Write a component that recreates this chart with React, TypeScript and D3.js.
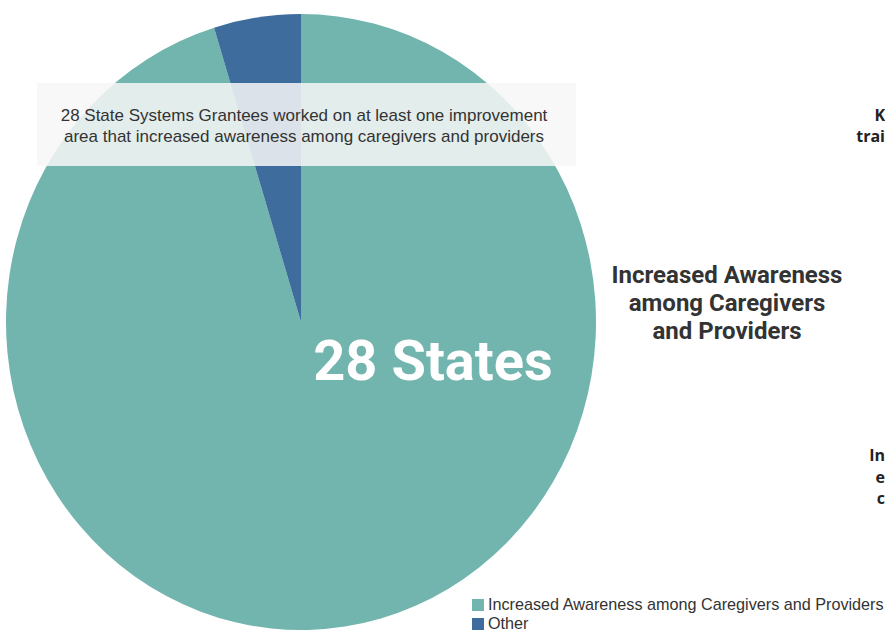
import { useEffect, useRef } from "react";
import * as d3 from "d3";

const categories = ["Increased Awareness among Caregivers and Providers", "Other"];
const values = [28, 1.4];
const colors = ["#72B5AE", "#3E6D9D"];
const tooltipLines = [
  "28 State Systems Grantees worked on at least one improvement",
  "area that increased awareness among caregivers and providers",
];
const titleLines = ["Increased Awareness", "among Caregivers", "and Providers"];
// fragments of the neighbouring chart's labels, cut by the right edge
const sideLabels = ["K", "trai", "In", "e", "c"];

export default function App() {
  const svgRef = useRef<SVGSVGElement>(null);

  useEffect(() => {
    if (!svgRef.current) return;
    const width = 886;
    const height = 633;
    const svg = d3.select(svgRef.current);
    svg.selectAll("*").remove();
    svg.attr("viewBox", `0 0 ${width} ${height}`);

    const data = categories.map((c, i) => ({ label: c, value: values[i], color: colors[i] }));
    const cx = 301;
    const cy = 322;
    const r = 295;
    const ry = 308;

    const pie = d3.pie<(typeof data)[number]>().value((d) => d.value).sort(null);
    const arc = d3.arc<d3.PieArcDatum<(typeof data)[number]>>().innerRadius(0).outerRadius(r);

    // the chart is slightly stretched vertically
    svg
      .append("g")
      .attr("transform", `translate(${cx},${cy}) scale(1,${ry / r})`)
      .selectAll("path")
      .data(pie(data))
      .join("path")
      .attr("d", arc)
      .attr("fill", (d) => d.data.color);

    svg
      .append("text")
      .attr("x", 433)
      .attr("y", 380)
      .attr("text-anchor", "middle")
      .attr("font-family", "Roboto, Arial, sans-serif")
      .attr("font-weight", "bold")
      .attr("font-size", 56)
      .attr("fill", "#ffffff")
      .text(`${values[0]} States`);

    const title = svg
      .append("text")
      .attr("text-anchor", "middle")
      .attr("font-family", "Roboto, Arial, sans-serif")
      .attr("font-weight", "bold")
      .attr("font-size", 24)
      .attr("fill", "#333333");
    titleLines.forEach((t, i) => {
      title.append("tspan").attr("x", 727).attr("y", 283 + i * 28).text(t);
    });

    const sideY = [121, 142, 461, 483, 504];
    svg
      .append("g")
      .attr("font-family", "'Open Sans', Arial, sans-serif")
      .attr("font-weight", "bold")
      .attr("font-size", 16)
      .attr("fill", "#222222")
      .attr("text-anchor", "end")
      .selectAll("text")
      .data(sideLabels)
      .join("text")
      .attr("x", 885)
      .attr("y", (_, i) => sideY[i])
      .text((d) => d);

    // tooltip
    svg
      .append("rect")
      .attr("x", 37)
      .attr("y", 83)
      .attr("width", 539)
      .attr("height", 83)
      .attr("fill", "#f7f7f7")
      .attr("fill-opacity", 0.85);
    const tip = svg
      .append("text")
      .attr("text-anchor", "middle")
      .attr("font-family", "Arial, 'Liberation Sans', sans-serif")
      .attr("font-size", 17)
      .attr("fill", "#333333");
    tooltipLines.forEach((t, i) => {
      tip.append("tspan").attr("x", 304).attr("y", 121 + i * 21).text(t);
    });

    // legend
    const legend = svg
      .append("g")
      .attr("transform", "translate(472,599)")
      .selectAll("g")
      .data(data)
      .join("g")
      .attr("transform", (_, i) => `translate(0,${i * 19})`);
    legend
      .append("rect")
      .attr("width", 12)
      .attr("height", 12)
      .attr("fill", (d) => d.color);
    legend
      .append("text")
      .attr("x", 16)
      .attr("y", 11)
      .attr("font-family", "Arial, 'Liberation Sans', sans-serif")
      .attr("font-size", 16.2)
      .attr("fill", "#333333")
      .text((d) => d.label);
  }, []);

  return (
    <svg
      ref={svgRef}
      width={886}
      height={633}
      style={{ position: "fixed", left: 0, top: 0, background: "#ffffff" }}
    />
  );
}
